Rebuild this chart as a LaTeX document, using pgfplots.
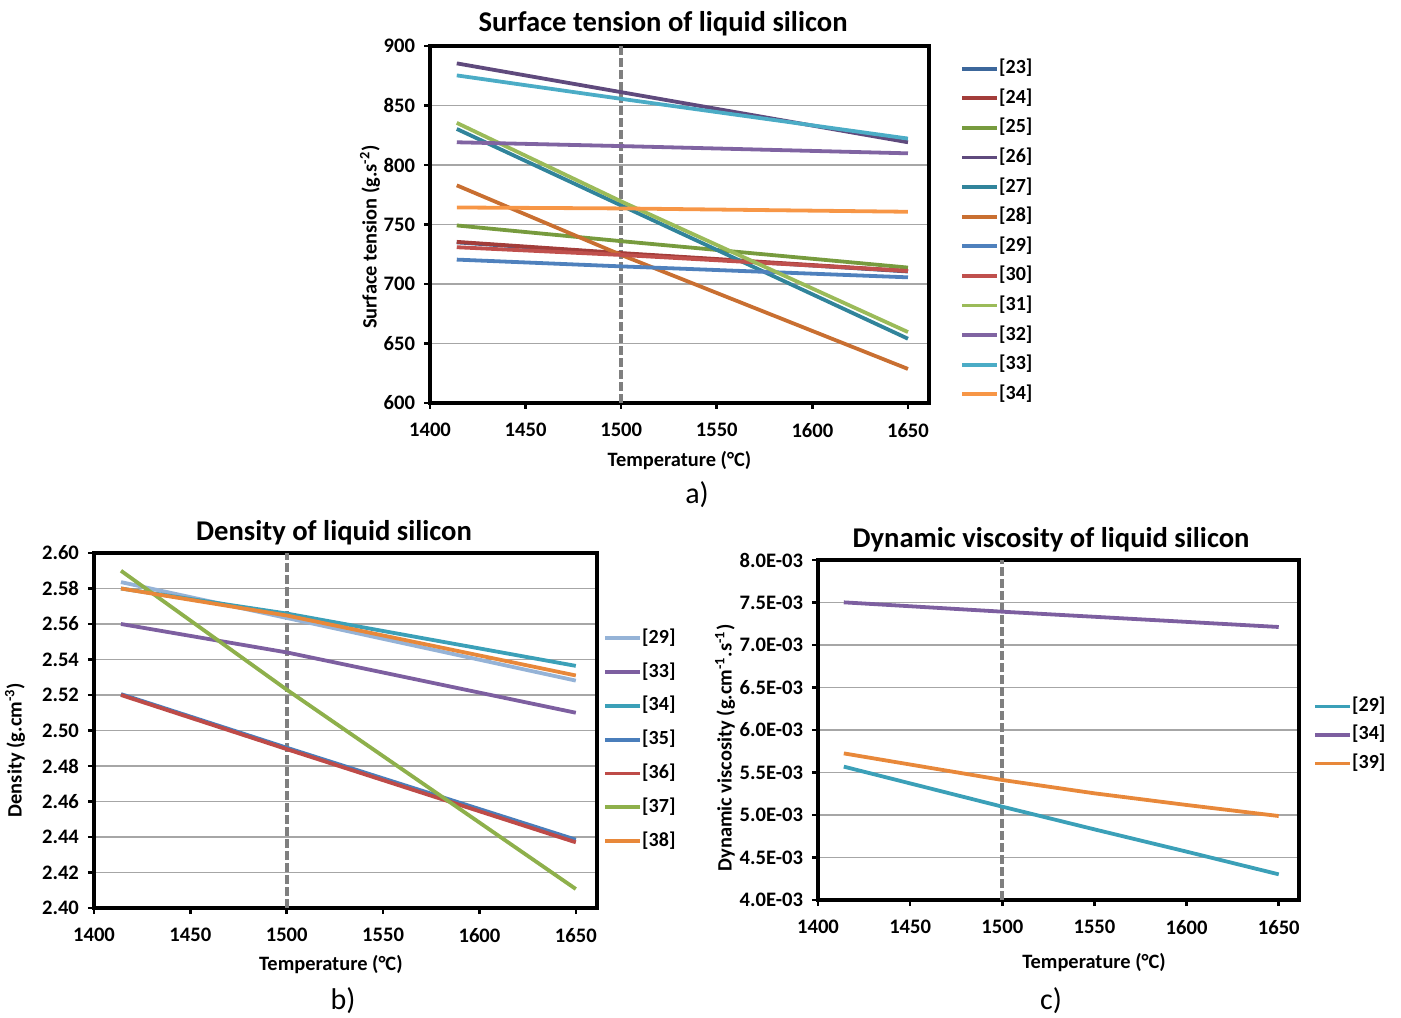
\documentclass[border=0pt]{standalone}
\usepackage{fontspec}
\setmainfont{Carlito}
\usepackage{pgfplots}
\pgfplotsset{compat=1.18}
\newcommand{\rf}[1]{\mbox{[#1]}}
\definecolor{c23}{HTML}{3C679B}
\definecolor{c24}{HTML}{A33D3A}
\definecolor{c25}{HTML}{779B3E}
\definecolor{c26}{HTML}{5F4A7D}
\definecolor{c27}{HTML}{31849B}
\definecolor{c28}{HTML}{C96F31}
\definecolor{c29}{HTML}{4F81BD}
\definecolor{c30}{HTML}{C0504D}
\definecolor{c31}{HTML}{9BBB59}
\definecolor{c32}{HTML}{8064A2}
\definecolor{c33}{HTML}{4BACC6}
\definecolor{c34}{HTML}{F79646}
\definecolor{lb}{HTML}{95B3D7}
\definecolor{pu}{HTML}{7D5FA0}
\definecolor{te}{HTML}{3BA0B8}
\definecolor{bl}{HTML}{4A7EBB}
\definecolor{re}{HTML}{BE4B48}
\definecolor{gr}{HTML}{8EB04B}
\definecolor{orr}{HTML}{E8883A}
\definecolor{gridc}{HTML}{A6A6A6}
\definecolor{dashc}{HTML}{7F7F7F}
\pgfplotsset{
  silstyle/.style={
    scale only axis,
    axis line style={line width=1.8pt, black},
    xmin=1400, xmax=1661,
    xtick={1400,1450,...,1650},
    xtick pos=left, ytick pos=left,
    tick align=outside,
    major tick length=3pt,
    every tick/.style={black, line width=1.3pt},
    ymajorgrids,
    major grid style={gridc, line width=0.7pt},
    ticklabel style={font=\bfseries\fontsize{10.3}{11}\selectfont},
    xticklabel style={yshift=-3.7pt},
    yticklabel style={xshift=-1pt},
    /pgf/number format/assume math mode=true,
    /pgf/number format/1000 sep={},
    label style={font=\bfseries\fontsize{10.2}{11}\selectfont},
    every axis plot/.append style={line width=1.9pt, no marks},
    legend style={draw=none, fill=none, inner sep=0pt, anchor=north west,
      font=\bfseries\fontsize{10}{11}\selectfont,
      nodes={inner sep=0pt, text height=7pt, text depth=2pt}},
    legend cell align=left,
    legend image code/.code={\draw[#1, line width=1.9pt] (0pt,0pt) -- (17.5pt,0pt);},
    /tikz/every even column/.append style={column sep=2pt},
  },
  vline/.style={dashc, line width=1.9pt, dash pattern=on 4.5pt off 1.5pt, forget plot},
}
\begin{document}
\begin{tikzpicture}
\useasboundingbox (0,0) rectangle (700.5pt,508.5pt);
% ---------- a) ----------
\begin{axis}[silstyle,
  at={(215pt,307pt)}, anchor=south west,
  width=249.5pt, height=178.5pt,
  ymin=600, ymax=900, ytick={600,650,...,900},
  xlabel={Temperature (°C)},
  ylabel={Surface tension (g.s\textsuperscript{-2})},
  xlabel style={at={(axis description cs:0.5,-0.16)}, anchor=center},
  ylabel style={at={(axis description cs:-0.12,0.465)}, anchor=center},
  legend style={at={(axis description cs:1.062,0.963)}, row sep=5.8pt},
]
\addplot[vline] coordinates {(1500,600) (1500,900)};
\addplot[c23] coordinates {(1414,735.0) (1500,725.5) (1650,710.5)};
\addplot[c24] coordinates {(1414,735.4) (1500,726.0) (1650,710.9)};
\addplot[c25] coordinates {(1414,749.2) (1500,736.0) (1650,713.8)};
\addplot[c26] coordinates {(1414,885.4) (1500,861.2) (1650,819.1)};
\addplot[c27] coordinates {(1414,830.3) (1500,766.0) (1650,654.0)};
\addplot[c28] coordinates {(1414,782.9) (1500,724.4) (1650,628.6)};
\addplot[c29] coordinates {(1414,720.5) (1500,714.8) (1650,705.6)};
\addplot[c30] coordinates {(1414,730.9) (1500,724.4) (1650,711.0)};
\addplot[c31] coordinates {(1414,835.4) (1500,769.4) (1650,659.6)};
\addplot[c32] coordinates {(1414,819.1) (1500,815.9) (1650,809.8)};
\addplot[c33] coordinates {(1414,875.3) (1500,855.6) (1650,822.2)};
\addplot[c34] coordinates {(1414,764.3) (1500,763.5) (1650,760.7)};
\legend{\rf{23},\rf{24},\rf{25},\rf{26},\rf{27},\rf{28},\rf{29},\rf{30},\rf{31},\rf{32},\rf{33},\rf{34}}
\end{axis}
\node[font=\bfseries\fontsize{14.3}{16}\selectfont] at (331.5pt,496.5pt) {Surface tension of liquid silicon};
\node[font=\fontsize{15}{17}\selectfont] at (348.5pt,261pt) {a)};
% ---------- b) ----------
\begin{axis}[silstyle,
  at={(47pt,54.5pt)}, anchor=south west,
  width=251.5pt, height=177.5pt,
  ymin=2.40, ymax=2.60, ytick={2.40,2.42,...,2.601},
  yticklabel style={/pgf/number format/fixed, /pgf/number format/fixed zerofill, /pgf/number format/precision=2},
  xlabel={Temperature (°C)},
  ylabel={Density (g.cm\textsuperscript{-3})},
  xlabel style={at={(axis description cs:0.471,-0.16)}, anchor=center},
  ylabel style={at={(axis description cs:-0.157,0.445)}, anchor=center},
  legend style={at={(axis description cs:1.012,0.786)}, row sep=7.9pt},
]
\addplot[vline] coordinates {(1500,2.40) (1500,2.60)};
\addplot[lb] coordinates {(1414,2.5836) (1500,2.5634) (1650,2.5281)};
\addplot[pu] coordinates {(1414,2.560) (1500,2.544) (1650,2.510)};
\addplot[te] coordinates {(1414,2.580) (1500,2.5659) (1650,2.5364)};
\addplot[bl] coordinates {(1414,2.5205) (1500,2.4903) (1650,2.4385)};
\addplot[re] coordinates {(1414,2.520) (1500,2.4895) (1650,2.437)};
\addplot[gr] coordinates {(1414,2.590) (1500,2.523) (1650,2.4107)};
\addplot[orr] coordinates {(1414,2.580) (1500,2.5648) (1650,2.531)};
\legend{\rf{29},\rf{33},\rf{34},\rf{35},\rf{36},\rf{37},\rf{38}}
\end{axis}
\node[font=\bfseries\fontsize{14.3}{16}\selectfont] at (167pt,242pt) {Density of liquid silicon};
\node[font=\fontsize{15}{17}\selectfont] at (171.5pt,8pt) {b)};
% ---------- c) ----------
\begin{axis}[silstyle,
  at={(409pt,58.5pt)}, anchor=south west,
  width=240.5pt, height=170pt,
  ymin=0.004, ymax=0.008, scaled y ticks=false,
  ytick={0.004,0.0045,0.005,0.0055,0.006,0.0065,0.007,0.0075,0.008},
  yticklabels={4.0E-03,4.5E-03,5.0E-03,5.5E-03,6.0E-03,6.5E-03,7.0E-03,7.5E-03,8.0E-03},
  xlabel={Temperature (°C)},
  ylabel={Dynamic viscosity (g.cm\textsuperscript{-1}.s\textsuperscript{-1})},
  xlabel style={at={(axis description cs:0.574,-0.185)}, anchor=center},
  ylabel style={at={(axis description cs:-0.193,0.447)}, anchor=center},
  legend style={at={(axis description cs:1.029,0.597)}, row sep=5.25pt},
]
\addplot[vline] coordinates {(1500,0.004) (1500,0.008)};
\addplot[te] coordinates {(1414,0.005569) (1500,0.005098) (1550,0.004831) (1600,0.004569) (1650,0.004302)};
\addplot[pu] coordinates {(1414,0.007502) (1500,0.007392) (1650,0.007212)};
\addplot[orr] coordinates {(1414,0.005725) (1500,0.005412) (1550,0.005255) (1600,0.005118) (1650,0.004988)};
\legend{\rf{29},\rf{34},\rf{39}}
\end{axis}
\node[font=\bfseries\fontsize{14.3}{16}\selectfont] at (525.5pt,238.5pt) {Dynamic viscosity of liquid silicon};
\node[font=\fontsize{15}{17}\selectfont] at (525.5pt,8pt) {c)};
\end{tikzpicture}
\end{document}
